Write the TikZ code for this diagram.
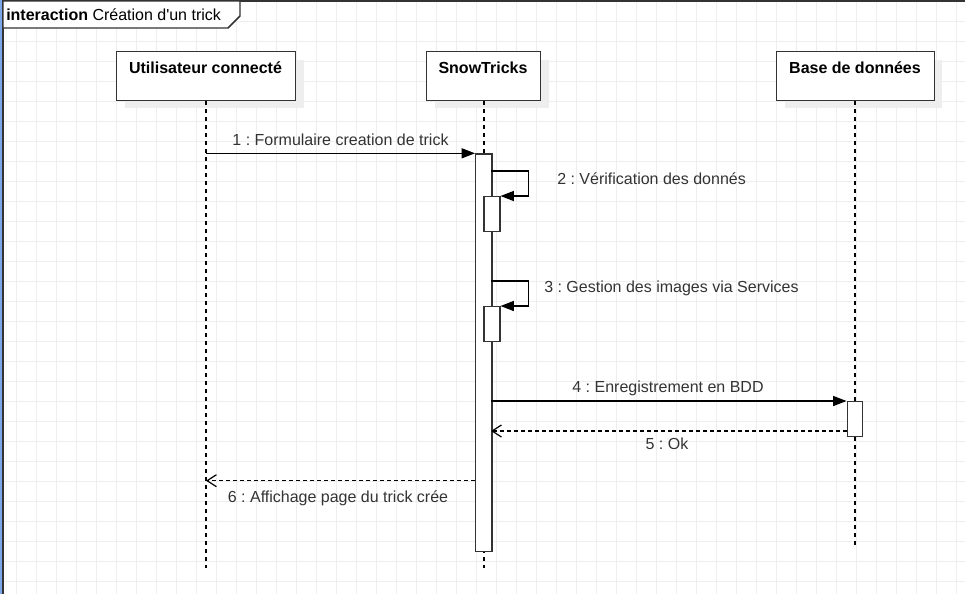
\documentclass[tikz,border=0pt]{standalone}
\usepackage{fontspec}
\setmainfont{Liberation Sans}
\newfontfamily\lsans{Liberation Sans}
\usetikzlibrary{arrows.meta}
\frenchspacing
\definecolor{gridc}{HTML}{EEEEEE}
\definecolor{linec}{HTML}{333333}
\definecolor{txtc}{HTML}{333333}
\definecolor{shadc}{HTML}{EEEEEE}
\definecolor{selblue}{HTML}{7BA7E8}
\tikzset{
  headbox/.style={draw=linec, line width=1.1pt, fill=white, minimum width=#1, minimum height=36.75pt, inner sep=0pt},
  headtxt/.style={font=\lsans\fontsize{12}{14}\selectfont\bfseries, text=black, inner sep=0pt},
  lbl/.style={font=\lsans\fontsize{12}{14}\selectfont, text=txtc, inner sep=0pt},
  lifeline/.style={draw=black, line width=0.9pt, dash pattern=on 3pt off 3pt},
  actbar/.style={draw=linec, line width=0.9pt, fill=white},
  msg/.style={draw=black, line width=0.9pt, -{Triangle[length=10pt,width=7.5pt]}},
  reply/.style={draw=black, line width=0.9pt, dash pattern=on 3pt off 2.25pt, -{Straight Barb[length=7pt,width=9pt,line width=0.9pt]}},
}
\begin{document}
\begin{tikzpicture}[x=0.75pt,y=-0.75pt]
\useasboundingbox (0,0) rectangle (965,594);
\fill[white] (0,0) rectangle (965,594);
% grid
\foreach \gx in {16.5,36.5,...,965} \draw[gridc, line width=0.75pt] (\gx,0) -- (\gx,594);
\foreach \gy in {1.7,21.7,...,594} \draw[gridc, line width=0.75pt] (0,\gy) -- (965,\gy);
% frame
\draw[linec, line width=1.1pt] (2.8,594) -- (2.8,1) -- (965,1);
\draw[selblue, line width=1.5pt] (0.8,0) -- (0.8,594);
\draw[linec, line width=1.1pt, fill=white] (2.8,1) -- (240,1) -- (240,16) -- (228,28) -- (2.8,28) -- cycle;
\node[lbl, anchor=west, text=black] (title) at (6,14.5) {\textbf{interaction} Création d'un trick};
% shadows
\fill[shadc] (125,60) rectangle (304,108);
\fill[shadc] (435,60) rectangle (549,108);
\fill[shadc] (785,60) rectangle (942,108);
% head boxes
\node[headbox=134.25pt, anchor=north west] (user) at (115.5,51) {};
\node[headbox=85.5pt, anchor=north west] (app) at (426,51) {};
\node[headbox=118.5pt, anchor=north west] (db) at (776,51) {};
\node[headtxt] (usert) at (205.5,67.5) {Utilisateur connecté};
\node[headtxt] (appt) at (483,67.5) {SnowTricks};
\node[headtxt] (dbt) at (855,67.5) {Base de données};
% lifelines
\coordinate (userend) at (206,568);
\coordinate (append) at (484,568);
\coordinate (dbend) at (855,548);
\draw[lifeline] (user.south -| 206,0) -- (userend);
\draw[lifeline] (app.south -| 484,0) -- (append);
\draw[lifeline] (db.south -| 855,0) -- (dbend);
% activation bars
\node[actbar, anchor=north west, minimum width=12.3pt, minimum height=298pt, inner sep=0pt] (appact) at (475,153.3) {};
\node[actbar, anchor=north west, minimum width=12pt, minimum height=26pt, inner sep=0pt] (act2) at (483.3,196) {};
\node[actbar, anchor=north west, minimum width=12pt, minimum height=26pt, inner sep=0pt] (act3) at (483.3,306) {};
\node[actbar, anchor=north west, minimum width=11.5pt, minimum height=26pt, inner sep=0pt] (dbact) at (846.5,401) {};
% message 1
\draw[msg] (206,153.3) -- (appact.north west);
\node[lbl] (l1) at (340.5,140) {1 : Formulaire creation de trick};
% message 2 (self)
\draw[msg] (491,171) -- (528.5,171) -- (528.5,196) -- (act2.north east);
\node[lbl, anchor=west] (l2) at (557,178.5) {2 : Vérification des donnés};
% message 3 (self)
\draw[msg] (491,281) -- (528.5,281) -- (528.5,306) -- (act3.north east);
\node[lbl, anchor=west] (l3) at (544,288.5) {3 : Gestion des images via Services};
% message 4
\draw[msg] (491,401) -- (dbact.north west);
\node[lbl] (l4) at (668,388.5) {4 : Enregistrement en BDD};
% message 5
\draw[reply] (846.5,431) -- (491,431);
\node[lbl] (l5) at (667,443.5) {5 : Ok};
% message 6
\draw[reply] (475,480.7) -- (206,480.7);
\node[lbl] (l6) at (338,498.5) {6 : Affichage page du trick crée};
\end{tikzpicture}
\end{document}
